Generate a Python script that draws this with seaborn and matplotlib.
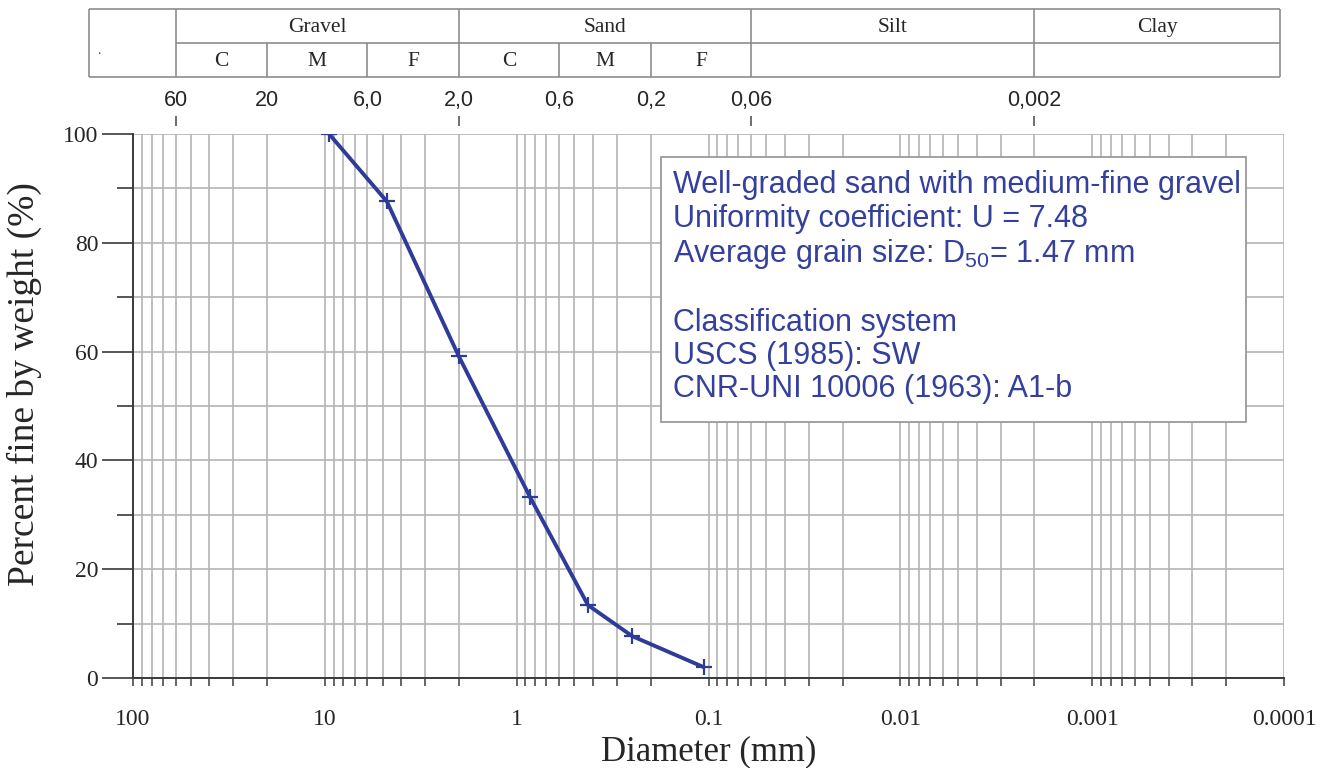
import matplotlib
matplotlib.use("Agg")
import matplotlib.pyplot as plt
import matplotlib.transforms as mtransforms
from matplotlib.lines import Line2D
from matplotlib.patches import Rectangle
from matplotlib.ticker import FixedLocator, FixedFormatter, LogLocator, NullFormatter
import pandas as pd
import seaborn as sns

# Sieve analysis results
diameter_mm = [9.5, 4.75, 2.0, 0.85, 0.425, 0.25, 0.106]
percent_passing = [100.0, 87.6, 59.1, 33.2, 13.4, 7.7, 2.0]

x_major_ticks = [100, 10, 1, 0.1, 0.01, 0.001, 0.0001]
x_major_labels = ["100", "10", "1", "0.1", "0.01", "0.001", "0.0001"]
y_major_ticks = [0, 20, 40, 60, 80, 100]
y_minor_ticks = [10, 30, 50, 70, 90]

# Grain-size class limits (mm)
limit_ticks = [60, 2.0, 0.06, 0.002]
limit_labels = ["60", "2,0", "0,06", "0,002"]
sub_limit_ticks = [20, 6.0, 0.6, 0.2]
sub_limit_labels = ["20", "6,0", "0,6", "0,2"]

main_classes = ["Gravel", "Sand", "Silt", "Clay"]
sub_classes = ["C", "M", "F", "C", "M", "F"]
sub_bounds = [60, 20, 6.0, 2.0, 0.6, 0.2, 0.06]

info_lines = [
    "Well-graded sand with medium-fine gravel",
    "Uniformity coefficient: U = 7.48",
    r"Average grain size: D$_{\mathregular{50}}$= 1.47 mm",
    "",
    "Classification system",
    "USCS (1985): SW",
    "CNR-UNI 10006 (1963): A1-b",
]

sns.set_style("white")
plt.rcParams["font.family"] = ["Liberation Serif", "DejaVu Serif"]
plt.rcParams["mathtext.fontset"] = "custom"
plt.rcParams["mathtext.rm"] = "Liberation Sans"
plt.rcParams["mathtext.it"] = "Liberation Sans:italic"

BLUE = "#2E3C98"
TEXT_BLUE = "#34409C"
GRID = "#B4B4B4"
AXIS = "#3A3A3A"
TABLE = "#8C8C8C"

W, H = 1330, 768
fig = plt.figure(figsize=(W / 100, H / 100), dpi=100)
ax = fig.add_axes([133 / W, 1 - 678 / H, (1284 - 133) / W, (678 - 134) / H])
ax.set_xscale("log")
ax.set_xlim(100, 0.0001)
ax.set_ylim(0, 100)

df = pd.DataFrame({"diameter": diameter_mm, "passing": percent_passing})
sns.lineplot(data=df, x="diameter", y="passing", ax=ax, sort=False,
             color=BLUE, lw=2.8, marker="+", markersize=11,
             markeredgewidth=1.6, markeredgecolor=BLUE)

# Axes, ticks and grid
ax.xaxis.set_major_locator(FixedLocator(x_major_ticks))
ax.xaxis.set_major_formatter(FixedFormatter(x_major_labels))
ax.xaxis.set_minor_locator(LogLocator(base=10, subs=range(2, 10), numticks=20))
ax.xaxis.set_minor_formatter(NullFormatter())
ax.yaxis.set_major_locator(FixedLocator(y_major_ticks))
ax.yaxis.set_minor_locator(FixedLocator(y_minor_ticks))

ax.grid(True, which="both", axis="both", color=GRID, lw=1.2)
ax.set_axisbelow(True)
for side in ("top", "right"):
    ax.spines[side].set_visible(False)
for side in ("left", "bottom"):
    ax.spines[side].set_color(AXIS)
    ax.spines[side].set_linewidth(1.4)

ax.tick_params(axis="x", which="both", direction="out", length=6, width=1.1,
               color=AXIS, labelsize=17, pad=16, bottom=True)
ax.tick_params(axis="y", which="major", direction="out", length=22, width=1.2,
               color=AXIS, labelsize=17, pad=3, left=True)
ax.tick_params(axis="y", which="minor", direction="out", length=11.5, width=1.2,
               color=AXIS, left=True)

ax.set_xlabel("Diameter (mm)", fontsize=25, labelpad=4)
ax.set_ylabel("Percent fine by weight (%)", fontsize=27)
ax.yaxis.set_label_coords(-0.079, 0.54)

# Class limits shown above the plot
sec = ax.secondary_xaxis(1 + 8 / 544)
sec.set_xticks(limit_ticks, labels=limit_labels)
sec.set_xticks(sub_limit_ticks, labels=sub_limit_labels, minor=True)
sec.tick_params(which="major", direction="out", length=7, width=1.2, color="#555555", pad=4)
sec.tick_params(which="minor", length=0, pad=11)
sec.tick_params(which="both", labelsize=15.5)
for lab in sec.get_xticklabels(which="both"):
    lab.set_family("Liberation Sans")
for sp in sec.spines.values():
    sp.set_visible(False)

# Classification table
tr = mtransforms.blended_transform_factory(ax.transData, fig.transFigure)
y_top, y_mid, y_bot = 1 - 8.5 / H, 1 - 42.5 / H, 1 - 76.5 / H
x_left, x_right = 89 / W, 1280 / W
lk = dict(color=TABLE, lw=1.2, solid_capstyle="butt")
fig.add_artist(Line2D([x_left, x_right], [y_top, y_top], transform=fig.transFigure, **lk))
fig.add_artist(Line2D([x_left, x_right], [y_bot, y_bot], transform=fig.transFigure, **lk))
fig.add_artist(Line2D([x_left, x_left], [y_bot, y_top], transform=fig.transFigure, **lk))
fig.add_artist(Line2D([x_right, x_right], [y_bot, y_top], transform=fig.transFigure, **lk))
x_mid_start = tr.transform((limit_ticks[0], 0))[0]
x_mid_start = fig.transFigure.inverted().transform((x_mid_start, 0))[0]
fig.add_artist(Line2D([x_mid_start, x_right], [y_mid, y_mid], transform=fig.transFigure, **lk))
for b in limit_ticks:
    fig.add_artist(Line2D([b, b], [y_bot, y_top], transform=tr, **lk))
for b in sub_limit_ticks:
    fig.add_artist(Line2D([b, b], [y_bot, y_mid], transform=tr, **lk))

row1 = (y_top + y_mid) / 2
row2 = (y_mid + y_bot) / 2
# right end of the clay column in data units
right_px = x_right * W
right_data = ax.transData.inverted().transform((right_px, 0))[0]
main_edges = limit_ticks + [right_data]
for i, name in enumerate(main_classes):
    xc = (main_edges[i] * main_edges[i + 1]) ** 0.5
    fig.text(xc, row1 - 0.002, name, transform=tr, ha="center", va="center", fontsize=15.5)
for i, name in enumerate(sub_classes):
    xc = (sub_bounds[i] * sub_bounds[i + 1]) ** 0.5
    fig.text(xc, row2 - 0.003, name, transform=tr, ha="center", va="center", fontsize=15.5)
fig.text(97 / W, 1 - 50 / H, ".", ha="left", va="center", fontsize=10, color="#444444")

# Summary box
ax.add_patch(Rectangle((0.4589, 0.4706), 0.967 - 0.4589, 0.9577 - 0.4706,
                       transform=ax.transAxes, facecolor="white", edgecolor="#9A9A9A",
                       lw=1.3, zorder=5))
ax.text(0.4693, 0.933, "\n".join(info_lines), transform=ax.transAxes, ha="left", va="top",
        fontsize=22, color=TEXT_BLUE, family="Liberation Sans", linespacing=1.14, zorder=6)

fig.savefig("out.png", dpi=100)
